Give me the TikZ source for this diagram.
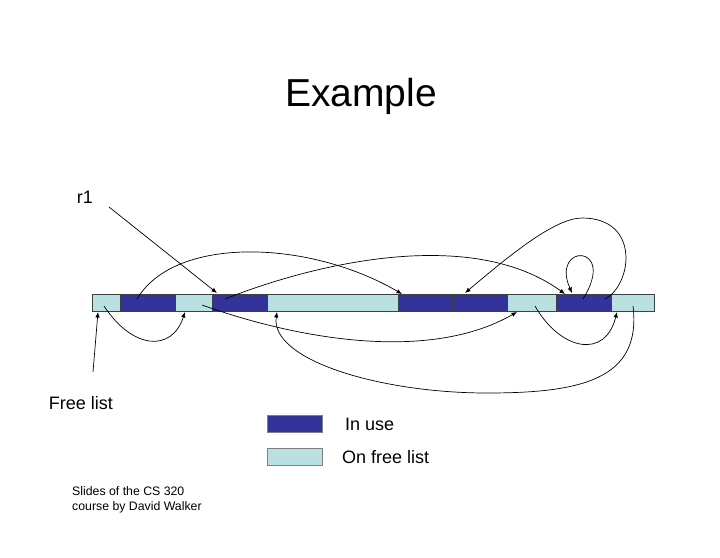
\documentclass[tikz,border=0pt]{standalone}
\usepackage{fontspec}
\setmainfont{Liberation Sans}
\usetikzlibrary{arrows.meta}
\definecolor{usedc}{RGB}{51,51,153}
\definecolor{freec}{RGB}{185,225,225}
\begin{document}
\begin{tikzpicture}[x=1pt,y=-1pt,
  seg/.style={draw=black!75, line width=0.6pt, minimum height=17pt, inner sep=0pt, outer sep=0pt, anchor=north west},
  used/.style={seg, fill=usedc},
  free/.style={seg, fill=freec},
  lbl/.style={inner sep=0pt, font=\fontsize{18}{21}\selectfont},
  link/.style={line width=0.7pt, -{Latex[length=5.5pt,width=4.5pt]}}]
\useasboundingbox (0,0) rectangle (720,557);
% title
\node[inner sep=0pt, font=\fontsize{39}{45}\selectfont] (title) at (361,96) {Example};
% memory bar
\node[free, minimum width=28pt] (s1) at (92,294) {};
\node[used, minimum width=55pt] (s2) at (120,294) {};
\node[free, minimum width=37pt] (s3) at (175,294) {};
\node[used, minimum width=55pt] (s4) at (212,294) {};
\node[free, minimum width=131pt] (s5) at (267,294) {};
\node[used, minimum width=54pt] (s6) at (398,294) {};
\node[used, minimum width=55pt] (s7) at (452,294) {};
\node[free, minimum width=49pt] (s8) at (507,294) {};
\node[used, minimum width=55pt] (s9) at (556,294) {};
\node[free, minimum width=43pt] (s10) at (611,294) {};
% labels
\node[lbl] (r1) at (85,197) {r1};
\node[lbl] (fl) at (81,403) {Free list};
% legend
\node[seg, fill=usedc, draw=black!50, minimum width=55pt] (lu) at (267,415) {};
\node[seg, fill=freec, draw=black!50, minimum width=55pt] (lf) at (267,448) {};
\node[lbl, anchor=west] (tu) at (345,424) {In use};
\node[lbl, anchor=west] (tf) at (342,457) {On free list};
\node[inner sep=0pt, anchor=north west, align=left, font=\fontsize{12.3}{15.5}\selectfont] (cr) at (72,486) {Slides of the CS 320\\course by David Walker};
% connector end points
\coordinate (flA) at (93,372);
\coordinate (flB) at (98,312);
\coordinate (rA) at (109,207);
\coordinate (rB) at (217,293);
\coordinate (p3a) at (104,306);
\coordinate (p3b) at (185,312);
\coordinate (p4a) at (137,299);
\coordinate (p4b) at (402,294);
\coordinate (p5a) at (225,299);
\coordinate (p5b) at (565,294);
\coordinate (p6a) at (202,305);
\coordinate (p6b) at (517,312);
\coordinate (p7a) at (535,306);
\coordinate (p7b) at (617,312);
\coordinate (p8a) at (633,306);
\coordinate (p8m) at (487,393);
\coordinate (p8b) at (277,312);
\coordinate (p9a) at (583,299);
\coordinate (p9b) at (572,293);
\coordinate (p10a) at (605,299);
\coordinate (p10m) at (582,218);
\coordinate (p10b) at (465,293);
% connectors
\draw[link] (flA) -- (flB);
\draw[link] (rA) -- (rB);
\draw[link] (p3a) .. controls (133,350) and (172,352) .. (p3b);
\draw[link] (p4a) .. controls (175,235) and (310,240) .. (p4b);
\draw[link] (p5a) .. controls (310,265) and (470,225) .. (p5b);
\draw[link] (p6a) .. controls (300,340) and (430,362) .. (p6b);
\draw[link] (p7a) .. controls (560,350) and (605,360) .. (p7b);
\draw[link] (p8a) .. controls (642,380) and (580,393) .. (p8m)
                  .. controls (380,393) and (270,360) .. (p8b);
\draw[link] (p9a) .. controls (618,243) and (550,243) .. (p9b);
\draw[link] (p10a) .. controls (632,285) and (641,218) .. (p10m)
                   .. controls (555,218) and (510,255) .. (p10b);
\end{tikzpicture}
\end{document}
